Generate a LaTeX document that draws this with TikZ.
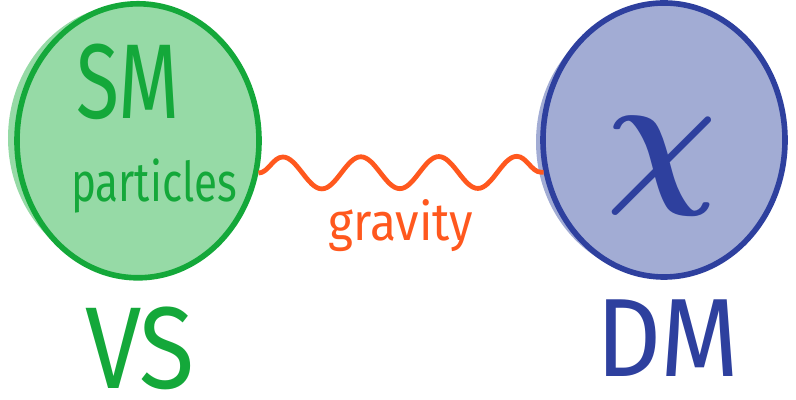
\documentclass[tikz,border=0pt]{standalone}
\usepackage{fontspec}
\setmainfont{Fira Sans}
\usepackage{tikz}
\usetikzlibrary{shapes.geometric, decorations.pathmorphing, positioning}
\definecolor{smgreen}{RGB}{20, 168, 58}
\definecolor{smfill}{RGB}{150, 218, 166}
\definecolor{dmblue}{RGB}{46, 64, 158}
\definecolor{dmfill}{RGB}{162, 172, 212}
\definecolor{gravorange}{RGB}{255, 88, 30}

\begin{document}
\begin{tikzpicture}[blob/.style={ellipse, line width=4pt, minimum width=6.05cm,
                                 minimum height=6.85cm, inner sep=0pt},
                    word/.style={inner sep=0pt, transform shape},
                    wave/.style={decorate, line width=3.4pt, gravorange,
                                 decoration={snake, segment length=1.95cm, amplitude=0.4cm}}]
    \useasboundingbox (0,0) rectangle (19.9,10);
    % soft fill behind the outlines
    \fill[smfill] (3.3,6.55) ellipse [x radius=3.1cm, y radius=3.35cm];
    \fill[dmfill] (16.5,6.45) ellipse [x radius=3.1cm, y radius=3.35cm];

    \node[blob, draw=smgreen, fill=smfill] (sm) at (3.45,6.48) {};
    \node[blob, draw=dmblue, fill=dmfill]  (dm) at (16.6,6.5) {};

    \node[word, smgreen, yscale=1.35, font=\fontsize{56}{56}\selectfont] (smtop) at (3.2,7.95) {SM};
    \node[word, smgreen, yscale=1.3, font=\fontsize{30}{30}\selectfont] (smbot) at (3.85,5.35) {particles};
    \node[word, dmblue, scale=11, font=\boldmath] (chi) at (16.55,5.85) {$\chi$};

    \node[word, smgreen, yscale=1.15, font=\fontsize{72}{72}\selectfont] (vs) at (3.5,1.3) {VS};
    \node[word, dmblue, yscale=1.1, font=\fontsize{72}{72}\selectfont]  (dmlabel) at (16.7,1.55) {DM};

    \draw[wave] (sm.-15) -- node[word, below=0.6cm, gravorange, yscale=1.1, font=\fontsize{34}{34}\selectfont] (grav) {gravity} (dm.195);
\end{tikzpicture}
\end{document}
